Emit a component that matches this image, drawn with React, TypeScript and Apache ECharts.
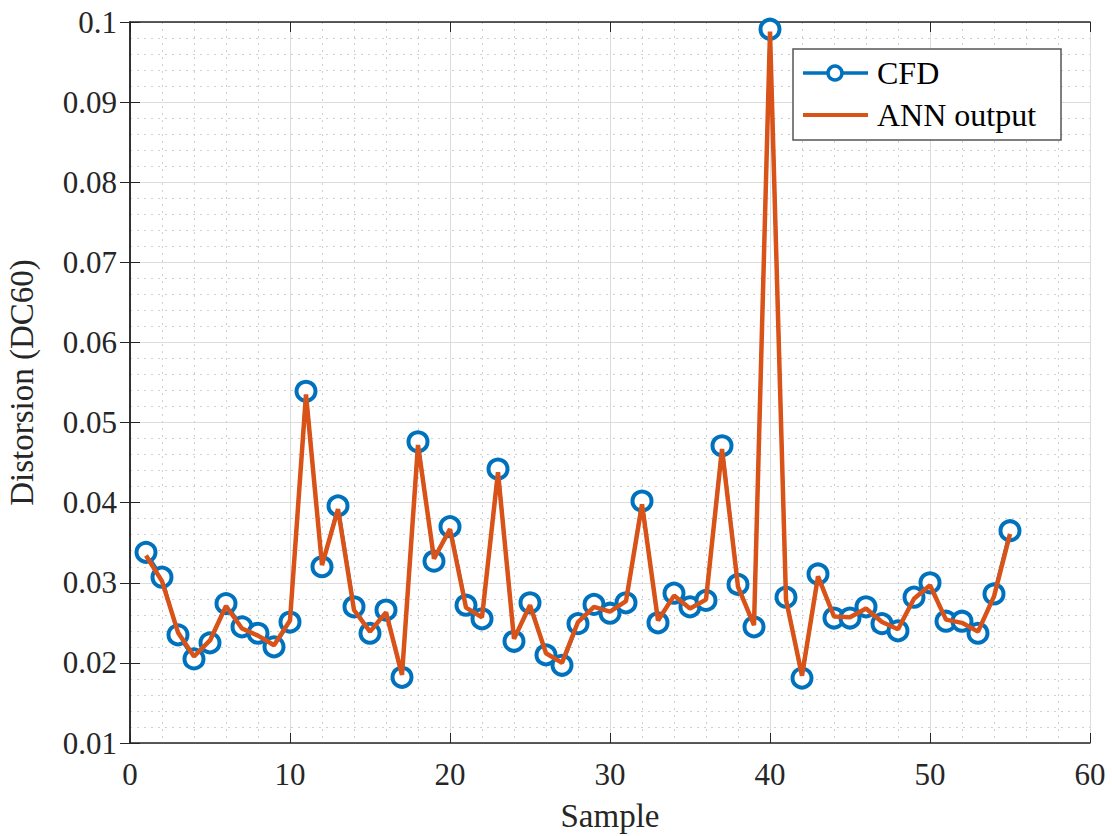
import React, { useEffect, useRef } from "react";
import * as echarts from "echarts";

const samples = Array.from({ length: 55 }, (_, i) => i + 1);
const cfd = [
  0.0338, 0.0307, 0.0235, 0.0205, 0.0225, 0.0274, 0.0245, 0.0237, 0.022, 0.0251,
  0.0539, 0.032, 0.0396, 0.027, 0.0237, 0.0266, 0.0182, 0.0476, 0.0327, 0.037,
  0.0272, 0.0255, 0.0442, 0.0227, 0.0275, 0.021, 0.0197, 0.0249, 0.0273, 0.0262,
  0.0275, 0.0402, 0.025, 0.0287, 0.027, 0.0278, 0.0471, 0.0298, 0.0245, 0.0991,
  0.0282, 0.0181, 0.0311, 0.0256, 0.0256, 0.027, 0.0249, 0.024, 0.0282, 0.03,
  0.0252, 0.0252, 0.0237, 0.0286, 0.0365,
];
const ann = [
  0.0334, 0.0302, 0.0238, 0.0208, 0.0228, 0.0271, 0.0243, 0.0234, 0.0222, 0.0253,
  0.0535, 0.0322, 0.0392, 0.0266, 0.0239, 0.0263, 0.0185, 0.0472, 0.033, 0.0367,
  0.0269, 0.0257, 0.0438, 0.023, 0.0272, 0.0212, 0.02, 0.0251, 0.027, 0.0264,
  0.0277, 0.0398, 0.0253, 0.0284, 0.0268, 0.0279, 0.0467, 0.0295, 0.0247, 0.0988,
  0.0279, 0.0184, 0.0308, 0.0258, 0.0257, 0.0268, 0.0251, 0.0242, 0.028, 0.0297,
  0.0254, 0.025, 0.0239, 0.0283, 0.0361,
];
const seriesNames = ["CFD", "ANN output"];

const FONT = "Liberation Serif";
const BLUE = "#0072BD";
const ORANGE = "#D95319";

export default function App() {
  const ref = useRef<HTMLDivElement>(null);
  useEffect(() => {
    const chart = echarts.init(ref.current!, null, { renderer: "svg" });
    const majorGrid = { show: true, lineStyle: { color: "#dcdcdc", width: 1 } };
    const minorGrid = { show: true, lineStyle: { color: "#cfcfcf", width: 1, type: [2, 5] as any } };
    const axisLine = { show: true, lineStyle: { color: "#262626", width: 1.5 } };
    const axisTick = { show: true, inside: true, length: 10, lineStyle: { color: "#262626" } };
    chart.setOption({
      animation: false,
      backgroundColor: "#ffffff",
      grid: { left: 130, right: 22, top: 22, bottom: 93, containLabel: false, outerBoundsMode: "none" },
      graphic: [
        {
          type: "rect",
          shape: { x: 793, y: 49, width: 268, height: 91 },
          style: { fill: "#ffffff", stroke: "#555555", lineWidth: 1.5 },
          z: 100,
        },
        {
          type: "line",
          shape: { x1: 803, y1: 73, x2: 868, y2: 73 },
          style: { stroke: BLUE, lineWidth: 3.5 },
          z: 101,
        },
        {
          type: "circle",
          shape: { cx: 835, cy: 73, r: 7 },
          style: { fill: "#ffffff", stroke: BLUE, lineWidth: 3.5 },
          z: 102,
        },
        {
          type: "text",
          x: 877,
          y: 73,
          style: { text: seriesNames[0], fontFamily: FONT, fontSize: 32, fill: "#000000", verticalAlign: "middle", align: "left" },
          z: 102,
        },
        {
          type: "line",
          shape: { x1: 803, y1: 115, x2: 868, y2: 115 },
          style: { stroke: ORANGE, lineWidth: 4 },
          z: 101,
        },
        {
          type: "text",
          x: 877,
          y: 115,
          style: { text: seriesNames[1], fontFamily: FONT, fontSize: 32, fill: "#000000", verticalAlign: "middle", align: "left" },
          z: 102,
        },
      ],
      xAxis: [
        {
          type: "value",
          min: 0,
          max: 60,
          interval: 10,
          name: "Sample",
          nameLocation: "middle",
          nameGap: 56,
          nameTextStyle: { fontFamily: FONT, fontSize: 33, color: "#262626" },
          axisLine,
          axisTick,
          axisLabel: { fontFamily: FONT, fontSize: 31, color: "#262626", margin: 16 },
          splitLine: majorGrid,
          minorTick: { show: false, splitNumber: 5 },
          minorSplitLine: minorGrid,
        },
        {
          type: "value",
          position: "top",
          min: 0,
          max: 60,
          interval: 10,
          axisLine,
          axisTick,
          axisLabel: { show: false },
          splitLine: { show: false },
        },
      ],
      yAxis: [
        {
          type: "value",
          min: 0.01,
          max: 0.1,
          interval: 0.01,
          name: "Distorsion (DC60)",
          nameLocation: "middle",
          nameGap: 92,
          nameTextStyle: { fontFamily: FONT, fontSize: 33, color: "#262626" },
          axisLine,
          axisTick,
          axisLabel: {
            fontFamily: FONT,
            fontSize: 31,
            color: "#262626",
            margin: 13,
            formatter: (v: number) => String(parseFloat(v.toFixed(3))),
          },
          splitLine: majorGrid,
          minorTick: { show: false, splitNumber: 5 },
          minorSplitLine: minorGrid,
        },
        {
          type: "value",
          position: "right",
          min: 0.01,
          max: 0.1,
          interval: 0.01,
          axisLine,
          axisTick,
          axisLabel: { show: false },
          splitLine: { show: false },
        },
      ],
      series: [
        {
          name: seriesNames[0],
          type: "line",
          data: samples.map((s, i) => [s, cfd[i]]),
          symbol: "circle",
          symbolSize: 19,
          showAllSymbol: true,
          lineStyle: { color: BLUE, width: 3 },
          itemStyle: { color: "#ffffff", borderColor: BLUE, borderWidth: 4 },
          z: 2,
        },
        {
          name: seriesNames[1],
          type: "line",
          data: samples.map((s, i) => [s, ann[i]]),
          symbol: "none",
          lineStyle: { color: ORANGE, width: 4.5 },
          itemStyle: { color: ORANGE },
          z: 3,
        },
      ],
    });
    return () => chart.dispose();
  }, []);
  return (
    <div
      ref={ref}
      style={{ position: "fixed", left: 0, top: 0, width: 1112, height: 836, background: "#fff" }}
    />
  );
}
